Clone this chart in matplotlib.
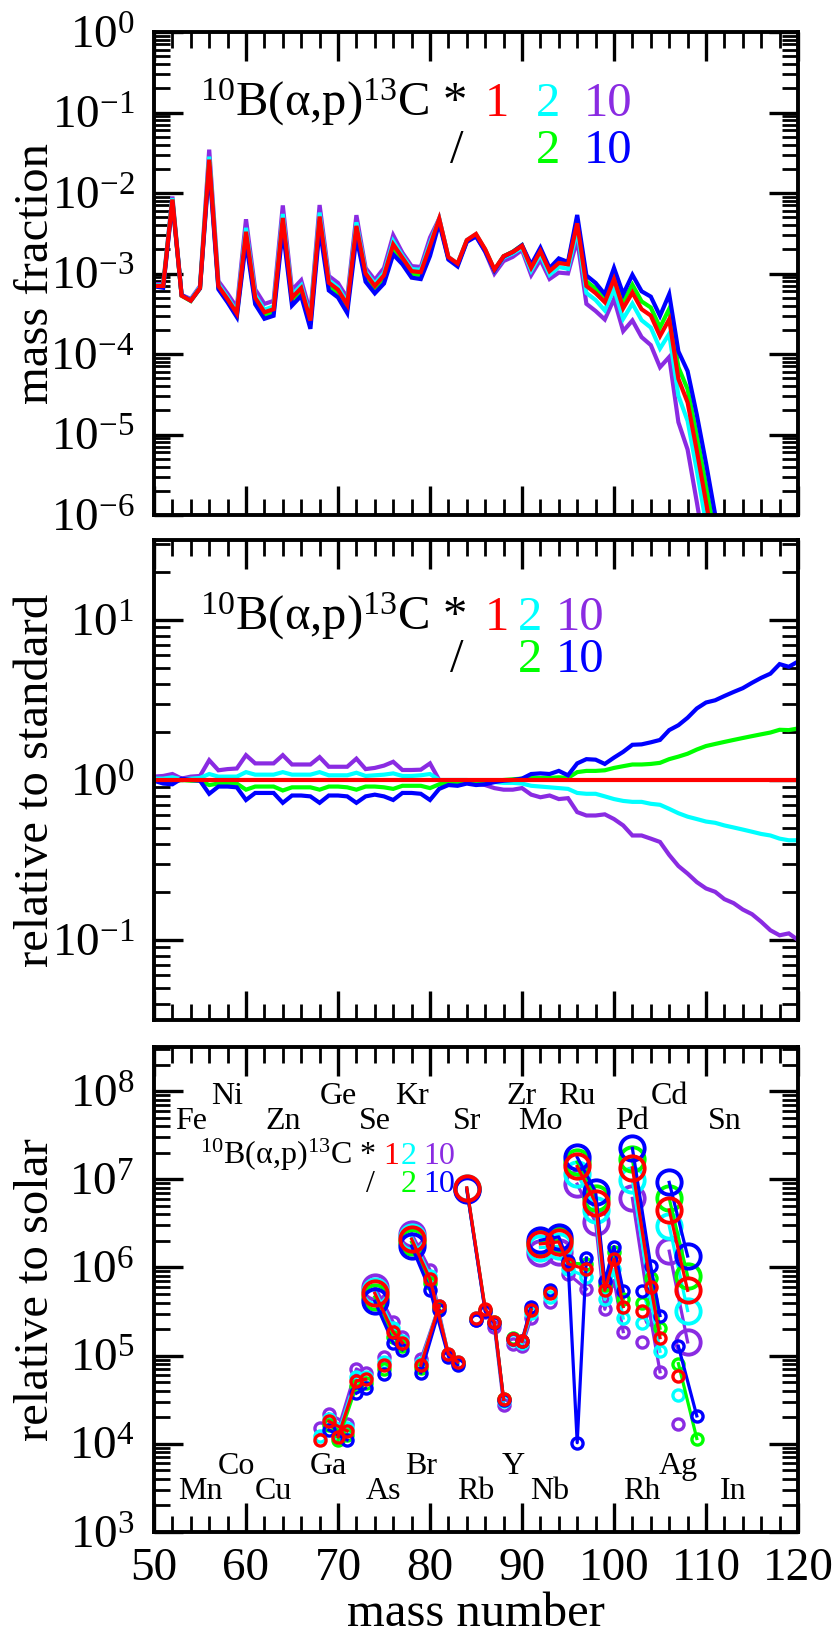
import numpy as np
import matplotlib
matplotlib.use('Agg')
import matplotlib.pyplot as plt
from matplotlib.ticker import FixedLocator, LogLocator, NullFormatter, FuncFormatter

plt.rcParams['font.family'] = ['Liberation Serif', 'DejaVu Serif']
plt.rcParams['mathtext.fontset'] = 'custom'
plt.rcParams['mathtext.rm'] = 'Liberation Serif'
plt.rcParams['mathtext.it'] = 'Liberation Serif:italic'

RED = '#ff0000'
CYAN = '#00ffff'
PURPLE = '#8a2be2'
GREEN = '#00ff00'
BLUE = '#0000ff'

# ---- top panel: mass fraction of the standard run (A = 50..112)
mass_top = np.arange(50, 113)
xfrac_std = [7.0e-4, 7.0e-4, 8.3e-3, 5.3e-4, 4.6e-4, 6.6e-4, 2.6e-2, 7.0e-4, 4.8e-4, 3.2e-4,
             3.3e-3, 5.0e-4, 3.3e-4, 3.6e-4, 4.9e-3, 5.0e-4, 6.6e-4, 2.6e-4, 5.1e-3, 7.7e-4,
             6.3e-4, 4.1e-4, 3.9e-3, 1.0e-3, 7.0e-4, 9.5e-4, 2.3e-3, 1.57e-3, 1.07e-3, 1.04e-3,
             2.2e-3, 4.8e-3, 1.6e-3, 1.33e-3, 2.6e-3, 3.1e-3, 2.0e-3, 1.12e-3, 1.64e-3, 1.85e-3,
             2.2e-3, 1.18e-3, 1.9e-3, 1.07e-3, 1.35e-3, 1.3e-3, 4.2e-3, 7.0e-4, 5.7e-4, 4.4e-4,
             8.5e-4, 3.7e-4, 5.8e-4, 3.6e-4, 3.0e-4, 1.67e-4, 2.7e-4, 4.9e-5, 2.5e-5, 6.3e-6,
             1.45e-6, 3.2e-7, 8.0e-8]

# ---- middle panel: ratio to the standard run (A = 50..120)
mass_rel = np.arange(50, 121)
rel_times2 = [1.02, 1.02, 1.04, 1.01, 1.02, 1.03, 1.09, 1.05, 1.05, 1.05,
              1.12, 1.08, 1.08, 1.08, 1.12, 1.08, 1.08, 1.08, 1.12, 1.07,
              1.07, 1.07, 1.11, 1.06, 1.07, 1.08, 1.10, 1.06, 1.06, 1.07,
              1.09, 1.00, 1.00, 1.00, 1.00, 0.99, 0.98, 0.97, 0.96, 0.96,
              0.95, 0.92, 0.91, 0.90, 0.89, 0.88, 0.83, 0.82, 0.82, 0.79,
              0.76, 0.74, 0.73, 0.73, 0.71, 0.70, 0.66, 0.62, 0.59, 0.57,
              0.55, 0.54, 0.52, 0.505, 0.49, 0.475, 0.46, 0.45, 0.43, 0.42, 0.42]
rel_times10 = [1.05, 1.06, 1.09, 1.02, 1.05, 1.06, 1.33, 1.15, 1.17, 1.18,
               1.43, 1.27, 1.27, 1.27, 1.43, 1.25, 1.25, 1.25, 1.39, 1.21,
               1.21, 1.21, 1.36, 1.17, 1.19, 1.23, 1.30, 1.155, 1.155, 1.16,
               1.27, 1.00, 0.97, 0.98, 0.97, 0.95, 0.93, 0.89, 0.87, 0.87,
               0.89, 0.81, 0.78, 0.80, 0.76, 0.77, 0.63, 0.60, 0.60, 0.61,
               0.57, 0.52, 0.45, 0.45, 0.43, 0.41, 0.34, 0.29, 0.26, 0.23,
               0.21, 0.20, 0.18, 0.17, 0.155, 0.145, 0.13, 0.115, 0.107, 0.11, 0.10]
rel_div2 = [1.00, 0.99, 0.98, 1.00, 0.99, 0.99, 0.93, 0.95, 0.95, 0.95,
            0.87, 0.91, 0.91, 0.91, 0.86, 0.90, 0.90, 0.90, 0.87, 0.91,
            0.91, 0.90, 0.87, 0.91, 0.91, 0.90, 0.88, 0.92, 0.92, 0.92,
            0.89, 0.94, 0.96, 0.96, 0.97, 0.97, 0.98, 0.99, 1.00, 1.01,
            1.02, 1.03, 1.03, 1.03, 1.04, 1.03, 1.12, 1.14, 1.14, 1.15,
            1.19, 1.22, 1.25, 1.25, 1.26, 1.28, 1.35, 1.40, 1.46, 1.55,
            1.63, 1.68, 1.73, 1.78, 1.83, 1.88, 1.93, 1.98, 2.06, 2.05, 2.10]
rel_div10 = [0.99, 0.95, 0.94, 1.02, 1.00, 0.99, 0.82, 0.91, 0.91, 0.90,
             0.75, 0.83, 0.83, 0.83, 0.72, 0.80, 0.80, 0.79, 0.72, 0.80,
             0.80, 0.79, 0.72, 0.79, 0.81, 0.79, 0.75, 0.83, 0.83, 0.82,
             0.75, 0.88, 0.93, 0.92, 0.95, 0.93, 0.94, 0.97, 0.99, 1.00,
             1.02, 1.09, 1.10, 1.09, 1.14, 1.07, 1.27, 1.35, 1.34, 1.26,
             1.38, 1.50, 1.66, 1.67, 1.72, 1.78, 2.05, 2.20, 2.45, 2.80,
             3.05, 3.15, 3.35, 3.55, 3.75, 4.05, 4.35, 4.62, 5.30, 5.10, 5.50]

# ---- bottom panel: overproduction of the standard run, per element
elem_names = ['Zn', 'Ga', 'Ge', 'As', 'Se', 'Br', 'Kr', 'Rb', 'Sr', 'Y', 'Zr', 'Nb',
              'Mo', 'Ru', 'Rh', 'Pd', 'Ag', 'Cd']
elem_masses = [[68], [69, 71], [70, 72, 73], [75], [74, 76, 77], [79, 81],
               [78, 80, 82, 83], [85], [84, 86, 87, 88], [89], [90, 91], [93],
               [92, 94, 95, 96, 97], [96, 98, 99, 100, 101], [103], [102, 104, 105],
               [107, 109], [106, 108]]
elem_overprod = [[1.1e4], [1.8e4, 1.4e4], [1.2e4, 5.2e4, 5.4e4], [7.8e4],
                 [5.1e5, 1.85e5, 1.4e5], [7.8e4, 3.7e5],
                 [2.1e6, 7.4e5, 1.05e5, 8.5e4], [2.7e5], [8.0e6, 3.4e5, 2.4e5, 3.2e4],
                 [1.55e5], [1.45e5, 3.3e5], [5.1e5],
                 [1.85e6, 1.95e6, 1.1e6, 8.1e3, 9.5e5],
                 [1.4e7, 5.4e6, 5.5e5, 1.25e6, 3.6e5], [3.2e5],
                 [1.35e7, 6.0e5, 1.6e5], [5.8e4, 7.4e3], [4.5e6, 5.5e5]]
p_nuclei = [('Se', 74), ('Kr', 78), ('Sr', 84), ('Mo', 92), ('Mo', 94), ('Ru', 96),
            ('Ru', 98), ('Pd', 102), ('Cd', 106), ('Cd', 108)]
min_shown = 1e4

even_labels = ['Fe', 'Ni', 'Zn', 'Ge', 'Se', 'Kr', 'Sr', 'Zr', 'Mo', 'Ru', 'Pd', 'Cd', 'Sn']
even_label_mass = [54, 58, 64, 70, 74, 78, 84, 90, 92, 96, 102, 106, 112]
even_label_row = [0, 1, 0, 1, 0, 1, 0, 1, 0, 1, 0, 1, 0]
odd_labels = ['Mn', 'Co', 'Cu', 'Ga', 'As', 'Br', 'Rb', 'Y', 'Nb', 'Rh', 'Ag', 'In']
odd_label_mass = [55, 59, 63, 69, 75, 79, 85, 89, 93, 103, 107, 113]
odd_label_row = [0, 1, 0, 1, 0, 1, 0, 1, 0, 0, 1, 0]

# draw order, red (standard) last
series = [(np.array(rel_times10), PURPLE), (np.array(rel_times2), CYAN),
          (np.array(rel_div2), GREEN), (np.array(rel_div10), BLUE),
          (np.ones(len(mass_rel)), RED)]

W, H = 833, 1639
fig = plt.figure(figsize=(W / 100, H / 100), dpi=100)
L, R = 154, 798
ax1 = fig.add_axes([L / W, 1 - 515 / H, (R - L) / W, 483 / H])
ax2 = fig.add_axes([L / W, 1 - 1020 / H, (R - L) / W, 480 / H])
ax3 = fig.add_axes([L / W, 1 - 1532 / H, (R - L) / W, 485 / H])


def logfmt(v, pos):
    return r'$\mathdefault{10^{%d}}$' % int(round(np.log10(v)))


for ax in (ax1, ax2, ax3):
    ax.set_yscale('log')
    ax.set_xlim(50, 120)
    ax.xaxis.set_major_locator(FixedLocator(np.arange(50, 121, 10)))
    ax.xaxis.set_minor_locator(FixedLocator(np.arange(50, 121, 2)))
    ax.yaxis.set_minor_locator(LogLocator(base=10, subs=np.arange(2, 10), numticks=30))
    ax.yaxis.set_minor_formatter(NullFormatter())
    ax.yaxis.set_major_formatter(FuncFormatter(logfmt))
    ax.tick_params(which='both', direction='in', top=True, right=True, colors='k')
    ax.tick_params(which='major', length=21, width=2.4, labelsize=34)
    ax.tick_params(which='minor', length=11.5, width=2.0)
    ax.tick_params(axis='y', which='major', pad=14)
    ax.tick_params(axis='x', which='major', pad=11)
    for sp in ax.spines.values():
        sp.set_linewidth(2.8)
    if ax is not ax3:
        ax.tick_params(axis='x', labelbottom=False)

# top panel
ax1.set_ylim(1e-6, 1)
ax1.yaxis.set_major_locator(LogLocator(base=10, numticks=30))
n = len(mass_top)
for ratio, col in series:
    ax1.plot(mass_top, np.array(xfrac_std) * ratio[:n], color=col, lw=3.0,
             solid_joinstyle='miter')
ax1.set_ylabel('mass fraction', fontsize=35)

# middle panel
ax2.set_ylim(10 ** -1.5, 10 ** 1.5)
ax2.yaxis.set_major_locator(FixedLocator([0.1, 1, 10]))
for ratio, col in series:
    ax2.plot(mass_rel, ratio, color=col, lw=3.0, solid_joinstyle='miter')
ax2.set_ylabel('relative to standard', fontsize=35)

# bottom panel
ax3.set_ylim(1e3, 10 ** 8.5)
ax3.yaxis.set_major_locator(LogLocator(base=10, numticks=30))
for ratio, col in series:
    for name, masses, vals in zip(elem_names, elem_masses, elem_overprod):
        m = np.array(masses)
        v = np.array(vals) * ratio[m - 50]
        keep = v >= min_shown
        if not keep.any():
            continue
        m, v = m[keep], v[keep]
        big = np.array([(name, a) in p_nuclei for a in m])
        ax3.plot(m, v, '-', color=col, lw=2.3)
        ax3.plot(m[~big], v[~big], 'o', mfc='none', mec=col, ms=8, mew=2.4)
        ax3.plot(m[big], v[big], 'o', mfc='none', mec=col, ms=17.5, mew=2.8)

row_even = [10 ** 7.57, 10 ** 7.85]
row_odd = [10 ** 3.37, 10 ** 3.66]
for lab, x, r in zip(even_labels, even_label_mass, even_label_row):
    ax3.text(x, row_even[r], lab, fontsize=23, ha='center', va='baseline')
for lab, x, r in zip(odd_labels, odd_label_mass, odd_label_row):
    ax3.text(x, row_odd[r], lab, fontsize=23, ha='center', va='baseline')
ax3.set_ylabel('relative to solar', fontsize=35)
ax3.set_xlabel('mass number', fontsize=35)

for ax in (ax1, ax2, ax3):
    ax.yaxis.label.set_va('baseline')
    ax.yaxis.set_label_coords(-0.165, 0.5)
ax3.xaxis.label.set_va('baseline')
ax3.xaxis.set_label_coords(0.5, -0.193)


# reaction legends
def put(x, y, s, col, size):
    fig.text(x / W, 1 - y / H, s, color=col, fontsize=size, ha='left', va='baseline')


reac = r'$^{\mathdefault{10}}$B(α,p)$^{\mathdefault{13}}$C *'
put(200, 116, reac, 'k', 35)
put(485, 116, '1', RED, 35)
put(536, 116, '2', CYAN, 35)
put(584, 116, '10', PURPLE, 35)
put(450, 163, '/', 'k', 35)
put(536, 163, '2', GREEN, 35)
put(584, 163, '10', BLUE, 35)

put(200, 630, reac, 'k', 35)
put(485, 630, '1', RED, 35)
put(518, 630, '2', CYAN, 35)
put(556, 630, '10', PURPLE, 35)
put(450, 672, '/', 'k', 35)
put(518, 672, '2', GREEN, 35)
put(556, 672, '10', BLUE, 35)

put(200, 1164, reac, 'k', 23)
put(383, 1164, '1', RED, 23)
put(401, 1164, '2', CYAN, 23)
put(423, 1164, '10', PURPLE, 23)
put(366, 1192, '/', 'k', 23)
put(401, 1192, '2', GREEN, 23)
put(423, 1192, '10', BLUE, 23)

fig.savefig('out.png', dpi=100)
